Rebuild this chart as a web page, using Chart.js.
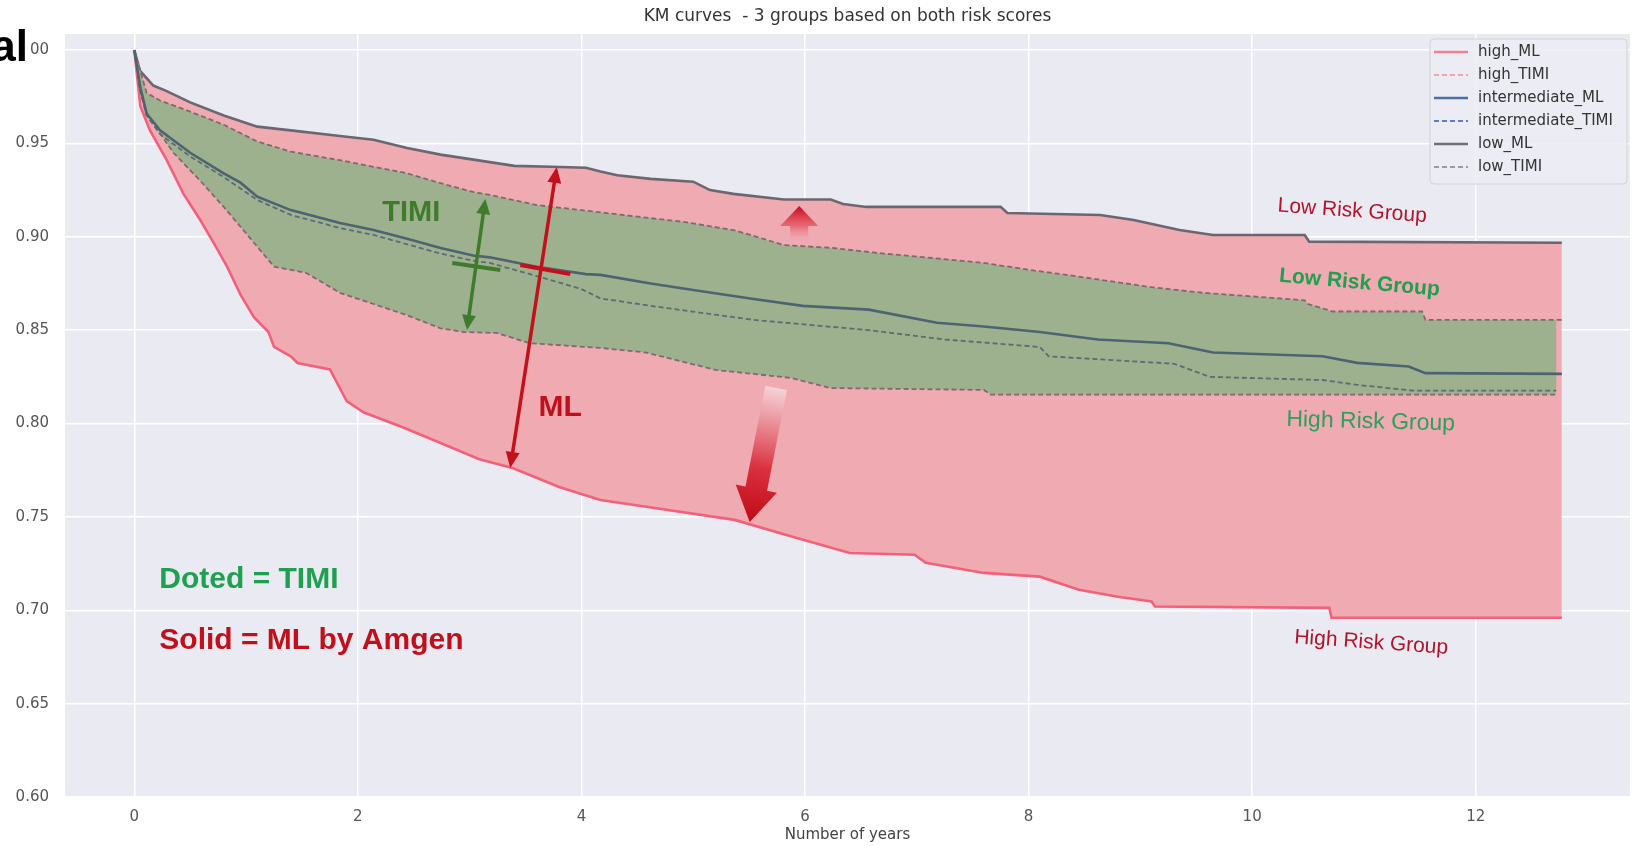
<!DOCTYPE html>
<html>
<head>
<meta charset="utf-8">
<title>KM curves</title>
<script src="https://cdn.jsdelivr.net/npm/chart.js@4.4.0/dist/chart.umd.min.js"></script>
<style>
  html, body { margin: 0; padding: 0; background: #fff; }
</style>
</head>
<body>
<canvas id="kmChart" width="1637" height="846"></canvas>
<script>
// survival (years, probability)
const highML_t = [0, 0.054, 0.14, 0.29, 0.44, 0.59, 0.71, 0.83, 0.95, 1.07, 1.20, 1.25, 1.40, 1.46, 1.75, 1.90, 2.05, 2.40, 2.74, 3.08, 3.39, 3.80, 4.17, 4.58, 5.37, 5.88, 6.40, 6.98, 7.08, 7.60, 8.10, 8.45, 8.80, 9.10, 9.13, 10.69, 10.71, 12.77];
const highML_s = [1.0, 0.970, 0.957, 0.941, 0.923, 0.909, 0.8967, 0.884, 0.869, 0.857, 0.849, 0.841, 0.836, 0.8324, 0.829, 0.812, 0.806, 0.798, 0.7896, 0.781, 0.776, 0.766, 0.759, 0.7554, 0.7484, 0.7395, 0.7307, 0.7297, 0.7254, 0.720, 0.718, 0.711, 0.7072, 0.7047, 0.702, 0.7013, 0.696, 0.696];

const highTIMI_t = [0, 0.054, 0.12, 0.35, 0.59, 0.80, 0.95, 1.10, 1.25, 1.54, 1.84, 2.14, 2.44, 2.74, 2.95, 3.24, 3.54, 4.17, 4.58, 5.20, 5.88, 6.23, 7.60, 7.66, 12.72];
const highTIMI_s = [1.0, 0.978, 0.965, 0.945, 0.930, 0.916, 0.9054, 0.8947, 0.884, 0.8806, 0.870, 0.864, 0.858, 0.851, 0.849, 0.8485, 0.843, 0.8405, 0.838, 0.8287, 0.8244, 0.819, 0.818, 0.8155, 0.8155];

const interML_t = [0, 0.054, 0.11, 0.23, 0.50, 0.80, 0.95, 1.10, 1.40, 1.84, 2.14, 2.44, 2.74, 3.03, 3.18, 3.60, 4.04, 4.17, 4.62, 5.00, 5.51, 5.98, 6.57, 7.18, 7.60, 8.10, 8.62, 9.25, 9.65, 10.63, 10.94, 11.40, 11.55, 12.77];
const interML_s = [1.0, 0.980, 0.966, 0.957, 0.945, 0.934, 0.929, 0.9215, 0.9143, 0.9074, 0.9036, 0.899, 0.894, 0.890, 0.889, 0.884, 0.880, 0.8796, 0.875, 0.8715, 0.867, 0.863, 0.861, 0.854, 0.852, 0.849, 0.845, 0.843, 0.838, 0.836, 0.8325, 0.8305, 0.827, 0.8266];

const interTIMI_t = [0, 0.054, 0.11, 0.23, 0.50, 0.80, 1.10, 1.40, 1.84, 2.14, 2.44, 2.74, 3.03, 3.18, 3.60, 4.00, 4.17, 4.68, 5.54, 6.57, 7.25, 8.10, 8.18, 9.30, 9.62, 10.63, 10.94, 11.44, 12.72];
const interTIMI_s = [1.0, 0.978, 0.965, 0.955, 0.943, 0.932, 0.9197, 0.9117, 0.9047, 0.901, 0.896, 0.891, 0.8872, 0.886, 0.879, 0.872, 0.867, 0.8625, 0.8555, 0.850, 0.845, 0.841, 0.836, 0.832, 0.825, 0.8233, 0.8207, 0.8176, 0.8176];

const lowML_t = [0, 0.05, 0.17, 0.29, 0.50, 0.80, 1.10, 1.40, 1.84, 2.14, 2.44, 2.74, 3.18, 3.40, 3.73, 4.04, 4.17, 4.32, 4.62, 5.00, 5.15, 5.36, 5.81, 6.23, 6.34, 6.55, 7.75, 7.81, 8.64, 8.94, 9.35, 9.65, 10.47, 10.51, 12.77];
const lowML_s = [1.0, 0.989, 0.981, 0.978, 0.972, 0.965, 0.959, 0.957, 0.954, 0.952, 0.9475, 0.944, 0.940, 0.938, 0.9375, 0.937, 0.935, 0.933, 0.931, 0.9295, 0.925, 0.923, 0.920, 0.920, 0.9176, 0.916, 0.916, 0.9127, 0.9117, 0.909, 0.9036, 0.901, 0.901, 0.8974, 0.8968];

const lowTIMI_t = [0, 0.11, 0.23, 0.50, 0.80, 1.10, 1.40, 1.84, 2.14, 2.44, 2.74, 3.03, 3.18, 3.60, 4.04, 4.47, 4.91, 5.36, 5.51, 5.81, 6.25, 6.70, 7.15, 7.60, 8.04, 8.34, 8.64, 9.10, 9.56, 10.47, 10.50, 10.72, 11.52, 11.55, 12.77];
const lowTIMI_s = [1.0, 0.977, 0.973, 0.967, 0.960, 0.951, 0.9456, 0.941, 0.9375, 0.934, 0.9287, 0.924, 0.9224, 0.917, 0.914, 0.911, 0.908, 0.9036, 0.901, 0.8956, 0.894, 0.891, 0.8886, 0.886, 0.882, 0.8796, 0.877, 0.873, 0.870, 0.866, 0.864, 0.860, 0.860, 0.8555, 0.8555];

const xTicks = [0, 2, 4, 6, 8, 10, 12];
const yTicks = [0.60, 0.65, 0.70, 0.75, 0.80, 0.85, 0.90, 0.95, 1.00];

const PINK = 'rgb(240,170,178)';
const GREEN = 'rgb(158,177,143)';
const FONT = 'DejaVu Sans';
const BOLD = '"Liberation Sans", Arial, sans-serif';

function pts(ts, vs) {
  return ts.map((t, i) => ({ x: t, y: vs[i] }));
}

function line(label, ts, vs, color, legendColor, dashed, order) {
  return {
    label: label,
    data: pts(ts, vs),
    borderColor: color,
    legendColor: legendColor,
    borderWidth: dashed ? 1.8 : 2.6,
    borderDash: dashed ? [5, 3] : [],
    pointRadius: 0,
    tension: 0,
    fill: false,
    order: order
  };
}

const datasets = [
  line('high_ML', highML_t, highML_s, '#F2607A', '#F2808F', false, 4),
  line('high_TIMI', highTIMI_t, highTIMI_s, '#85686C', '#F4A2AD', true, 3),
  line('intermediate_ML', interML_t, interML_s, '#4E6371', '#4C6EA8', false, 1),
  line('intermediate_TIMI', interTIMI_t, interTIMI_s, '#5D6B73', '#5F7CC0', true, 2),
  line('low_ML', lowML_t, lowML_s, '#6C6670', '#6E6E79', false, 6),
  line('low_TIMI', lowTIMI_t, lowTIMI_s, '#7E6A6E', '#9A9AA4', true, 5)
];
// pink band between the ML curves, green band between the TIMI curves
datasets[4].fill = 0;
datasets[4].backgroundColor = PINK;
datasets[5].fill = 1;
datasets[5].backgroundColor = GREEN;

const plotBg = {
  id: 'plotBg',
  beforeDraw(chart) {
    const { ctx, chartArea: a } = chart;
    ctx.save();
    ctx.fillStyle = '#ffffff';
    ctx.fillRect(0, 0, chart.width, chart.height);
    ctx.fillStyle = '#EAEAF2';
    ctx.fillRect(a.left, a.top, a.right - a.left, a.bottom - a.top);
    ctx.restore();
  }
};

function doubleArrow(ctx, x1, y1, x2, y2, color, w, hl, hw) {
  const ang = Math.atan2(y2 - y1, x2 - x1);
  const ux = Math.cos(ang), uy = Math.sin(ang);
  ctx.strokeStyle = color;
  ctx.fillStyle = color;
  ctx.lineWidth = w;
  ctx.beginPath();
  ctx.moveTo(x1 + ux * hl * 0.8, y1 + uy * hl * 0.8);
  ctx.lineTo(x2 - ux * hl * 0.8, y2 - uy * hl * 0.8);
  ctx.stroke();
  const head = (tx, ty, dx, dy) => {
    const bx = tx - dx * hl, by = ty - dy * hl;
    ctx.beginPath();
    ctx.moveTo(tx, ty);
    ctx.lineTo(bx - dy * hw / 2, by + dx * hw / 2);
    ctx.lineTo(bx + dy * hw / 2, by - dx * hw / 2);
    ctx.closePath();
    ctx.fill();
  };
  head(x2, y2, ux, uy);
  head(x1, y1, -ux, -uy);
}

function fatArrow(ctx, x1, y1, x2, y2, shaftW, headW, headL, stops) {
  const len = Math.hypot(x2 - x1, y2 - y1);
  const ang = Math.atan2(y2 - y1, x2 - x1);
  ctx.save();
  ctx.translate(x1, y1);
  ctx.rotate(ang);
  const g = ctx.createLinearGradient(0, 0, len, 0);
  stops.forEach(s => g.addColorStop(s[0], s[1]));
  ctx.fillStyle = g;
  ctx.beginPath();
  ctx.moveTo(0, -shaftW / 2);
  ctx.lineTo(len - headL, -shaftW / 2);
  ctx.lineTo(len - headL, -headW / 2);
  ctx.lineTo(len, 0);
  ctx.lineTo(len - headL, headW / 2);
  ctx.lineTo(len - headL, shaftW / 2);
  ctx.lineTo(0, shaftW / 2);
  ctx.closePath();
  ctx.fill();
  ctx.restore();
}

function note(ctx, text, x, y, font, color, align, deg) {
  ctx.save();
  ctx.translate(x, y);
  ctx.rotate((deg || 0) * Math.PI / 180);
  ctx.font = font;
  ctx.fillStyle = color;
  ctx.textAlign = align || 'center';
  ctx.textBaseline = 'middle';
  ctx.fillText(text, 0, 0);
  ctx.restore();
}

// hand-drawn notes of the slide, placed in data units
const kmNotes = {
  id: 'kmNotes',
  afterDatasetsDraw(chart) {
    const { ctx, scales: { x, y } } = chart;
    const px = t => x.getPixelForValue(t);
    const py = v => y.getPixelForValue(v);
    ctx.save();

    // TIMI spread
    doubleArrow(ctx, px(2.976), py(0.8501), px(3.14), py(0.9202), '#3F7B2D', 3.5, 15, 14);
    ctx.lineWidth = 4;
    ctx.beginPath();
    ctx.moveTo(px(2.844), py(0.8860));
    ctx.lineTo(px(3.274), py(0.8822));
    ctx.stroke();
    note(ctx, 'TIMI', px(2.478), py(0.913), 'bold 29px ' + BOLD, '#3F7B2D');

    // ML spread
    doubleArrow(ctx, px(3.363), py(0.7762), px(3.779), py(0.9374), '#C4101C', 3.5, 16, 14);
    ctx.lineWidth = 4;
    ctx.beginPath();
    ctx.moveTo(px(3.453), py(0.8849));
    ctx.lineTo(px(3.90), py(0.8801));
    ctx.stroke();
    note(ctx, 'ML', px(3.81), py(0.8084), 'bold 30px ' + BOLD, '#C0101C');

    // shift arrows
    fatArrow(ctx, px(5.948), py(0.8967), px(5.948), py(0.9165), 18, 38, 20,
      [[0, 'rgba(240,170,178,0)'], [0.45, 'rgba(228,90,105,0.8)'], [1, '#C80A18']]);
    fatArrow(ctx, px(5.742), py(0.8191), px(5.505), py(0.7473), 22, 42, 34,
      [[0, 'rgba(246,214,218,0.9)'], [0.6, '#DA3040'], [1, '#C00A16']]);

    note(ctx, 'Doted = TIMI', px(0.224), py(0.7163), 'bold 30px ' + BOLD, '#1FA050', 'left');
    note(ctx, 'Solid = ML by Amgen', px(0.224), py(0.6838), 'bold 30px ' + BOLD, '#C0101C', 'left');

    note(ctx, 'Low Risk Group', px(10.895), py(0.9138), '21px ' + BOLD, '#B3142A', 'center', 4);
    note(ctx, 'Low Risk Group', px(10.96), py(0.8753), 'bold 21px ' + BOLD, '#1FA050', 'center', 5);
    note(ctx, 'High Risk Group', px(11.06), py(0.8009), '23px ' + BOLD, '#2E9F5E', 'center', 1.5);
    note(ctx, 'High Risk Group', px(11.065), py(0.6826), '21px ' + BOLD, '#B3142A', 'center', 4);

    ctx.restore();
  },
  afterDraw(chart) {
    const { ctx, chartArea: a } = chart;
    ctx.save();

    // legend box in the upper right corner
    const right = a.right - 3, top = a.top + 5;
    const left = right - 197, bottom = top + 145;
    ctx.fillStyle = 'rgba(236,236,244,0.85)';
    ctx.strokeStyle = '#D2D2DA';
    ctx.lineWidth = 1;
    ctx.beginPath();
    ctx.roundRect(left, top, right - left, bottom - top, 4);
    ctx.fill();
    ctx.stroke();
    chart.data.datasets.forEach((ds, i) => {
      const cy = top + 13 + i * 23;
      ctx.strokeStyle = ds.legendColor;
      ctx.lineWidth = ds.borderDash.length ? 1.8 : 2.6;
      ctx.setLineDash(ds.borderDash.length ? [5, 3] : []);
      ctx.beginPath();
      ctx.moveTo(left + 4, cy);
      ctx.lineTo(left + 38, cy);
      ctx.stroke();
      ctx.setLineDash([]);
      ctx.fillStyle = '#333';
      ctx.font = '15px "' + FONT + '"';
      ctx.textAlign = 'left';
      ctx.textBaseline = 'middle';
      ctx.fillText(ds.label, left + 48, cy);
    });

    // fragment of the slide's heading that overlaps the chart
    ctx.fillStyle = '#ffffff';
    ctx.fillRect(0, 26, 29, 40);
    ctx.fillStyle = '#000';
    ctx.font = 'bold 44px ' + BOLD;
    ctx.textAlign = 'right';
    ctx.textBaseline = 'alphabetic';
    ctx.fillText('al', 28, 61);
    ctx.restore();
  }
};

new Chart(document.getElementById('kmChart'), {
  type: 'line',
  data: { datasets: datasets },
  options: {
    responsive: false,
    animation: false,
    layout: { padding: { left: 0, right: 7, top: 0, bottom: 0 } },
    plugins: {
      legend: { display: false },
      tooltip: { enabled: false },
      title: {
        display: true,
        fullSize: false,
        text: 'KM curves  - 3 groups based on both risk scores',
        color: '#333',
        font: { family: FONT, size: 17, weight: 'normal' },
        padding: { top: 6, bottom: 7.6 }
      }
    },
    scales: {
      x: {
        type: 'linear',
        min: -0.62,
        max: 13.38,
        afterBuildTicks: s => { s.ticks = xTicks.map(v => ({ value: v })); },
        afterFit: s => { s.height = 49; },
        grid: { color: '#ffffff', lineWidth: 1.5, drawTicks: false },
        border: { display: false },
        ticks: {
          padding: 11,
          color: '#555',
          font: { family: FONT, size: 15 },
          callback: v => String(v)
        },
        title: {
          display: true,
          text: 'Number of years',
          color: '#444',
          font: { family: FONT, size: 15 },
          padding: { top: 0, bottom: 2 }
        }
      },
      y: {
        min: 0.6,
        max: 1.0086,
        afterBuildTicks: s => { s.ticks = yTicks.map(v => ({ value: v })); },
        afterFit: s => { s.width = 65; },
        grid: { color: '#ffffff', lineWidth: 1.5, drawTicks: false },
        border: { display: false },
        ticks: {
          padding: 16,
          color: '#555',
          font: { family: FONT, size: 15 },
          callback: v => Number(v).toFixed(2)
        }
      }
    }
  },
  plugins: [plotBg, kmNotes]
});
</script>
</body>
</html>
